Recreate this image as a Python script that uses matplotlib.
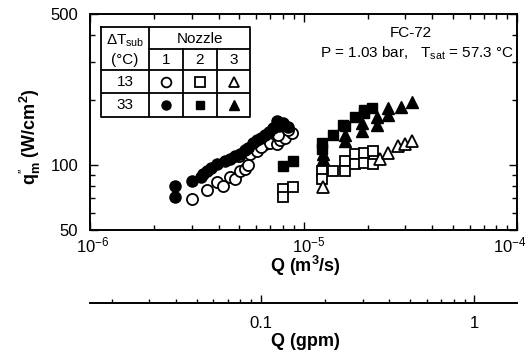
import numpy as np
import matplotlib.pyplot as plt
from matplotlib.transforms import blended_transform_factory

plt.rcParams['font.family'] = ['Liberation Sans', 'DejaVu Sans']
plt.rcParams['mathtext.fontset'] = 'custom'
plt.rcParams['mathtext.rm'] = 'Liberation Sans'
plt.rcParams['mathtext.it'] = 'Liberation Sans:italic'
plt.rcParams['mathtext.bf'] = 'Liberation Sans:bold'

GPM = 6.309e-5  # m^3/s per gpm

# Q in units of 1e-6 m^3/s, q''_m in W/cm^2
# nozzle 1, dT_sub = 13 C (open circles)
Q_n1_13 = [2.99, 3.52, 3.92, 4.2, 4.53, 4.8, 5.04, 5.3, 5.51, 5.0, 5.6, 6.04,
           6.6, 6.3, 7.0, 7.49, 7.8, 8.19, 8.81, 7.22, 7.6, 8.5]
q_n1_13 = [69.3, 76.2, 83.1, 80, 88.2, 86, 93.3, 96, 100, 110, 113, 116,
           124.4, 121, 127, 124.4, 131, 133.4, 140.5, 140.5, 137, 145]
# nozzle 1, dT_sub = 33 C (filled circles)
Q_n1_33 = [2.5, 2.5, 2.99, 3.3, 3.52, 3.4, 3.92, 3.7, 4.53, 4.3, 5.04, 4.8,
           5.51, 5.3, 6.04, 5.8, 6.6, 6.3, 7.22, 6.9, 8.04, 7.7, 8.5, 7.5]
q_n1_33 = [80.2, 70.8, 84.6, 88, 93.9, 91, 100.8, 97, 106.3, 104, 112, 110,
           120, 117, 131, 127, 138, 134, 148, 142, 156, 152, 150, 160]
# nozzle 2 (squares)
Q_n2_13 = [8.04, 8.04, 8.96, 12.2, 12.2, 13.8, 15.6, 15.6, 17.4, 17.4, 19.1, 19.1, 21.2, 21.2]
q_n2_13 = [77.5, 71, 79.4, 93.9, 86.1, 93.9, 104.4, 93.9, 112, 100.8, 114, 102.6, 116, 100.8]
Q_n2_33 = [8.04, 8.96, 12.2, 12.2, 13.8, 15.3, 15.6, 17.4, 19.1, 20.9, 19.1]
q_n2_33 = [99.1, 104.4, 126.5, 118, 138, 153.5, 150.8, 167.5, 180, 183, 173.4]
# nozzle 3 (triangles)
Q_n3_13 = [12.4, 22.8, 25, 27.8, 29.9, 32.1]
q_n3_13 = [78.9, 106.3, 114, 122, 124.4, 128.8]
Q_n3_33 = [12.4, 12.4, 15.6, 15.6, 18.7, 18.7, 22, 22, 25, 25, 28.5, 32.1]
q_n3_33 = [112, 106.3, 138, 128.8, 156, 143, 167.5, 153.5, 182.8, 170.6, 186, 196]

xtick_vals = [1e-6, 1e-5, 1e-4]
xtick_labels = ['$10^{-6}$', '$10^{-5}$', '$10^{-4}$']
ytick_vals = [50, 100, 500]
gpm_ticks = [0.1, 1]

W, H = 529, 359


def px(x0, y0, x1, y1):
    return [x0 / W, 1 - y1 / H, (x1 - x0) / W, (y1 - y0) / H]


open_style = dict(ls='none', mfc='white', mec='black', mew=1.3)
fill_style = dict(ls='none', mfc='black', mec='black', mew=1.0)
marks = {'o': 8, 's': 7.8, '^': 8.3}

fig = plt.figure(figsize=(W / 100, H / 100), dpi=100)
ax = fig.add_axes(px(90, 14, 517, 230))

series = [(Q_n1_13, q_n1_13, 'o', open_style), (Q_n2_13, q_n2_13, 's', open_style),
          (Q_n3_13, q_n3_13, '^', open_style), (Q_n1_33, q_n1_33, 'o', fill_style),
          (Q_n2_33, q_n2_33, 's', fill_style), (Q_n3_33, q_n3_33, '^', fill_style)]
for Q, q, m, st in series:
    ax.plot(np.array(Q) * 1e-6, q, marker=m, ms=marks[m], **st)

ax.set_xscale('log')
ax.set_yscale('log')
ax.set_xlim(1e-6, 1e-4)
ax.set_ylim(50, 500)
ax.set_yticks(ytick_vals)
ax.set_yticklabels([str(v) for v in ytick_vals], fontsize=12)
ax.yaxis.set_minor_formatter(plt.NullFormatter())
ax.set_xticks(xtick_vals)
ax.set_xticklabels([])
ax.xaxis.set_minor_formatter(plt.NullFormatter())
ax.tick_params(which='both', direction='in', top=True, right=True, width=1)
ax.tick_params(which='major', length=6)
ax.tick_params(which='minor', length=3.5)
ax.tick_params(axis='y', which='major', pad=8.5)
for s in ax.spines.values():
    s.set_linewidth(1.4)

trans = blended_transform_factory(ax.transData, ax.transAxes)
for t, lab, dx in zip(xtick_vals, xtick_labels, [2, 4, -5]):
    ax.annotate(lab, xy=(t, 0), xycoords=trans, xytext=(dx, -4),
                textcoords='offset points', ha='center', va='top', fontsize=12)

# secondary axis in gpm
ax2 = fig.add_axes(px(90, 302, 517, 303))
ax2.patch.set_visible(False)
for k in ['top', 'left', 'right']:
    ax2.spines[k].set_visible(False)
ax2.spines['bottom'].set_linewidth(1.4)
ax2.set_xscale('log')
ax2.set_xlim(1e-6 / GPM, 1e-4 / GPM)
ax2.set_yticks([])
ax2.set_xticks(gpm_ticks)
ax2.set_xticklabels(['0.1', '1'], fontsize=12)
ax2.xaxis.set_minor_formatter(plt.NullFormatter())
ax2.tick_params(which='both', direction='in', width=1)
ax2.tick_params(which='major', length=6, pad=9)
ax2.tick_params(which='minor', length=3)

fig.text(305 / W, 1 - 266 / H, r'Q (m$^{\mathbf{3}}$/s)', ha='center', va='center',
         fontsize=13, fontweight='bold')
fig.text(305 / W, 1 - 342 / H, 'Q (gpm)', ha='center', va='center',
         fontsize=13, fontweight='bold')
fig.text(30 / W, 1 - 137 / H, r"$\mathbf{q}_{\mathbf{m}}^{\prime\prime}$ (W/cm$^{\mathbf{2}}$)",
         ha='center', va='center', rotation=90, fontsize=13, fontweight='bold')

fig.text(411 / W, 1 - 33 / H, 'FC-72', ha='center', va='center', fontsize=11)
fig.text(514 / W, 1 - 53 / H, r'P = 1.03 bar,   T$_{\rm sat}$ = 57.3 °C', ha='right',
         va='center', fontsize=11)

# symbol table
tab = fig.add_axes(px(101, 27, 250, 117))
tab.set_xlim(0, 149)
tab.set_ylim(90, 0)
tab.axis('off')
lw = 1.3
tab.plot([0, 149, 149, 0, 0], [0, 0, 90, 90, 0], color='black', lw=lw, clip_on=False)
tab.plot([48, 48], [0, 90], color='black', lw=lw)
for xv in [82, 116]:
    tab.plot([xv, xv], [22, 90], color='black', lw=lw)
tab.plot([48, 149], [22, 22], color='black', lw=lw)
for yv in [43, 66]:
    tab.plot([0, 149], [yv, yv], color='black', lw=lw)
tab.text(24, 14, r'$\Delta$T$_{\rm sub}$', ha='center', va='center', fontsize=11)
tab.text(24, 33, '(°C)', ha='center', va='center', fontsize=11)
tab.text(98.5, 12, 'Nozzle', ha='center', va='center', fontsize=11)
cols = [65, 99, 132.5]
for cx, lab in zip(cols, ['1', '2', '3']):
    tab.text(cx, 33, lab, ha='center', va='center', fontsize=11)
tab.text(24, 55, '13', ha='center', va='center', fontsize=11)
tab.text(24, 78, '33', ha='center', va='center', fontsize=11)
for cx, m in zip(cols, ['o', 's', '^']):
    tab.plot([cx], [55], marker=m, ms=marks[m] - 1, **open_style)
    tab.plot([cx], [78], marker=m, ms=marks[m] - 1.5, **fill_style)

fig.savefig('out.png', dpi=100)
